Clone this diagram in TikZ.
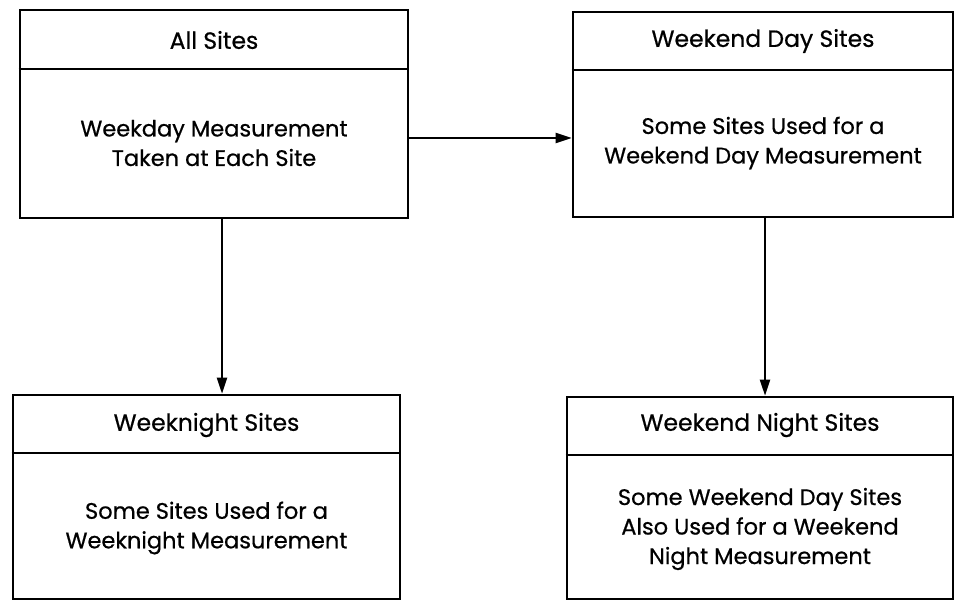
\documentclass[tikz,border=0pt]{standalone}
\usepackage{fontspec}
\setmainfont{Poppins}[FakeBold=0.6]
\usetikzlibrary{arrows.meta}
\begin{document}
\begin{tikzpicture}[x=1bp,y=-1bp,
  box/.style={draw,line width=2.6bp,minimum width=#1,inner sep=0pt},
  hdr/.style={font=\fontsize{23.5bp}{26bp}\selectfont},
  body/.style={font=\fontsize{22.5bp}{29.5bp}\selectfont,align=center},
  divider/.style={line width=2.6bp},
  arr/.style={line width=2bp,-{Triangle[length=16bp,width=10bp]}}]
\useasboundingbox (0,0) rectangle (955,602);
% boxes
\node[box=388bp,minimum height=208bp] (TL) at (214,114) {};
\node[box=380bp,minimum height=205bp] (TR) at (763,114.5) {};
\node[box=387bp,minimum height=204bp] (BL) at (206.5,497) {};
\node[box=386bp,minimum height=202bp] (BR) at (760,498) {};
% dividers
\coordinate (dTL) at (0,69);
\coordinate (dTR) at (0,70);
\coordinate (dBL) at (0,453);
\coordinate (dBR) at (0,455);
\draw[divider] (TL.west |- dTL) -- (TL.east |- dTL);
\draw[divider] (TR.west |- dTR) -- (TR.east |- dTR);
\draw[divider] (BL.west |- dBL) -- (BL.east |- dBL);
\draw[divider] (BR.west |- dBR) -- (BR.east |- dBR);
% headers
\node[hdr] (hTL) at (214,40) {All Sites};
\node[hdr] (hTR) at (763,41) {Weekend Day Sites};
\node[hdr] (hBL) at (206.5,425) {Weeknight Sites};
\node[hdr] (hBR) at (760,425) {Weekend Night Sites};
% bodies
\node[body] (bTL) at (214,143) {Weekday Measurement\\Taken at Each Site};
\node[body] (bTR) at (763,143) {Some Sites Used for a\\Weekend Day Measurement};
\node[body] (bBL) at (206.5,528) {Some Sites Used for a\\Weeknight Measurement};
\node[body] (bBR) at (760,529) {Some Weekend Day Sites\\Also Used for a Weekend\\Night Measurement};
% connectors
\coordinate (sH) at ([yshift=-24bp]TL.east);
\draw[arr] (sH) -- (sH -| TR.west);
\coordinate (sL) at ([xshift=8bp]TL.south);
\draw[arr] (sL) -- (sL |- BL.north);
\coordinate (sR) at ([xshift=2bp]TR.south);
\draw[arr] (sR) -- (sR |- BR.north);
\end{tikzpicture}
\end{document}
